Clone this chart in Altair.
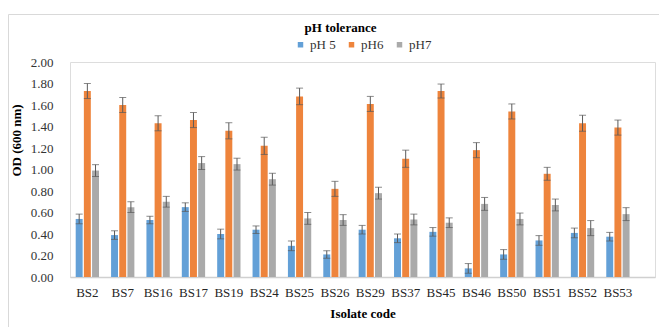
import altair as alt
import pandas as pd

isolates = ["BS2", "BS7", "BS16", "BS17", "BS19", "BS24", "BS25", "BS26",
            "BS29", "BS37", "BS45", "BS46", "BS50", "BS51", "BS52", "BS53"]
series = ["pH 5", "pH6", "pH7"]
ph5 = [0.54, 0.39, 0.53, 0.65, 0.40, 0.44, 0.29, 0.21, 0.44, 0.36, 0.42, 0.08, 0.21, 0.34, 0.41, 0.375]
ph6 = [1.73, 1.60, 1.43, 1.46, 1.36, 1.22, 1.68, 0.82, 1.61, 1.10, 1.73, 1.18, 1.54, 0.96, 1.43, 1.39]
ph7 = [0.99, 0.65, 0.70, 1.06, 1.05, 0.91, 0.545, 0.53, 0.78, 0.535, 0.505, 0.68, 0.54, 0.67, 0.455, 0.585]
err5 = [0.045, 0.04, 0.035, 0.04, 0.045, 0.035, 0.045, 0.035, 0.04, 0.04, 0.04, 0.045, 0.045, 0.045, 0.045, 0.04]
err6 = [0.07, 0.07, 0.07, 0.07, 0.075, 0.08, 0.077, 0.07, 0.07, 0.08, 0.065, 0.07, 0.07, 0.06, 0.075, 0.07]
err7 = [0.055, 0.05, 0.05, 0.06, 0.055, 0.055, 0.055, 0.05, 0.055, 0.05, 0.045, 0.06, 0.055, 0.055, 0.07, 0.06]
y_ticks = [0.0, 0.2, 0.4, 0.6, 0.8, 1.0, 1.2, 1.4, 1.6, 1.8, 2.0]
colors = ["#5B9BD5", "#ED7D31", "#A5A5A5"]

rows = []
for s, vals, errs in zip(series, [ph5, ph6, ph7], [err5, err6, err7]):
    for iso, v, e in zip(isolates, vals, errs):
        rows.append({"isolate": iso, "series": s, "value": v,
                     "lo": v - e, "hi": v + e})
df = pd.DataFrame(rows)

FONT = "Times New Roman, Liberation Serif, serif"
W, H = 585, 215

x_axis = alt.Axis(title="Isolate code", labelAngle=0, labelFont=FONT,
                  labelFontSize=13, labelColor="#262626", labelPadding=9,
                  labelOverlap=False,
                  ticks=False, domainColor="#d0d0d0", domainWidth=1.5,
                  titleFont=FONT, titleFontSize=13, titleFontWeight="bold",
                  titleColor="#000000", titlePadding=8)
x_scale = alt.Scale(paddingInner=0.341, paddingOuter=0.44, align=0.183)
y_axis = alt.Axis(title="OD (600 nm)", values=y_ticks, format=".2f",
                  grid=False, domain=False, ticks=False, labelOverlap=False,
                  labelFont=FONT, labelFontSize=13, labelColor="#333333",
                  labelPadding=17, titleFont=FONT, titleFontSize=13,
                  titleFontWeight="bold", titleColor="#000000",
                  titleX=-54, titleY=78, titleAngle=-90,
                  titleAlign="center", titleBaseline="middle")
y_scale = alt.Scale(domain=[0, 2], nice=False)


def xe():
    return alt.X("isolate:N", sort=isolates, scale=x_scale, axis=x_axis)


def xo():
    return alt.XOffset("series:N", sort=series,
                       scale=alt.Scale(paddingInner=0.15, paddingOuter=0))


base = alt.Chart(df)

bars = base.mark_bar(opacity=0.95).encode(
    x=xe(),
    xOffset=xo(),
    y=alt.Y("value:Q", scale=y_scale, axis=y_axis),
    color=alt.Color("series:N", sort=series,
                    scale=alt.Scale(domain=series, range=colors),
                    legend=alt.Legend(title=None, orient="none", direction="horizontal",
                                      legendX=224, legendY=-24, symbolType="square",
                                      symbolSize=30, symbolStrokeWidth=0,
                                      labelFont=FONT, labelFontSize=13,
                                      labelColor="#333333", columnPadding=9,
                                      labelOffset=3)),
)

rules = base.mark_rule(color="#5a5a5a", strokeWidth=1).encode(
    x=xe(),
    xOffset=xo(),
    y=alt.Y("lo:Q", scale=y_scale, axis=y_axis),
    y2="hi:Q",
)

caps_hi = base.mark_tick(color="#5a5a5a", thickness=1, size=7).encode(
    x=xe(),
    xOffset=xo(),
    y=alt.Y("hi:Q", scale=y_scale, axis=y_axis),
)
caps_lo = base.mark_tick(color="#5a5a5a", thickness=1, size=7).encode(
    x=xe(),
    xOffset=xo(),
    y=alt.Y("lo:Q", scale=y_scale, axis=y_axis),
)

frame = alt.Chart(pd.DataFrame({"k": [0]})).mark_rect(
    fill=None, stroke="#d9d9d9", strokeWidth=1, clip=False
).encode(x=alt.value(-61.5), x2=alt.value(W + 10), y=alt.value(-47.5), y2=alt.value(H + 60))

chart = alt.layer(frame, bars, rules, caps_hi, caps_lo).properties(
    width=W, height=H,
    autosize=alt.AutoSizeParams(type="none"),
    padding={"left": 62, "top": 54, "right": 4, "bottom": 50},
    title=alt.TitleParams("pH tolerance", font=FONT, fontSize=13, fontWeight="bold",
                          color="#000000", anchor="middle", dx=-22, offset=-21,
                          frame="group"),
).configure_view(stroke=None).configure(background="white").configure_axis(
    labelOverlap=False
)

chart.save("out.html", embed_options={"renderer": "svg", "actions": False})
